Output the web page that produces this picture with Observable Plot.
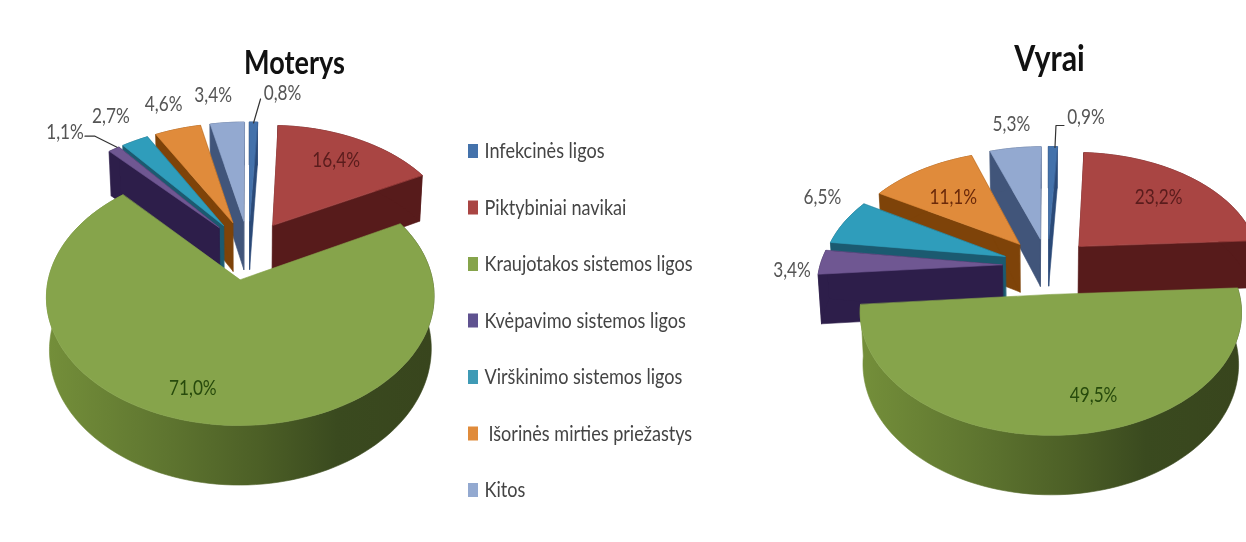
<!DOCTYPE html>
<html><head><meta charset="utf-8">
<script src="https://cdn.jsdelivr.net/npm/d3@7"></script>
<script src="https://cdn.jsdelivr.net/npm/@observablehq/plot@0.6"></script>
<style>html,body{margin:0;padding:0;background:#fff;overflow:hidden}svg{display:block;filter:blur(0.5px)}</style>
</head><body><div id="chart"></div>
<script>
// Data
const categories = ["Infekcinės ligos","Piktybiniai navikai","Kraujotakos sistemos ligos","Kvėpavimo sistemos ligos","Virškinimo sistemos ligos","Išorinės mirties priežastys","Kitos"];
const moterys = [0.8,16.4,71.0,1.1,2.7,4.6,3.4];
const vyrai = [0.9,23.2,49.5,3.4,6.5,11.1,5.3];
// Styles
const topColors = ["#4472ab","#a94543","#86a44b","#6f5792","#2f9dbb","#e08b3b","#93a9d0"];
const wallColors = ["#2b4a78","#571b1b","url(#greenWall)","#2d1e4a","#1b5a70","#7e4309","#41557a"];
const legendColors = ["#4472ab","#a94543","#86a44b","#5f5290","#3f9ab5","#e08b3b","#93a9d0"];
const drawOrder = [0,1,6,5,4,3,2];
// Layout of the two pseudo-3D pies
const pies = [
  {name:"Moterys", values:moterys, X0:248, Y0:249, A:186, B:118.5, g:.129, d:50, explode:.25,
   titleX:294, titleY:63, titleSize:33,
   labelColors:["#555","#5a1c1c","#274a0c","#555","#555","#555","#555"],
   labelOffset:[[29,-29],[-22,21],[-9,-35],[-49,-17],[-24,-25],[-14,-25],[-14,-27]],
   leaders:{0:[[0,1],[7,-23]],3:[[3,-2],[-19,-13],[-29,-13]]}},
  {name:"Vyrai", values:vyrai, X0:1047, Y0:265, A:182, B:112, g:.141, d:49, explode:.25,
   titleX:1049, titleY:59, titleSize:37,
   labelColors:["#555","#5a1c1c","#274a0c","#555","#555","#6b2a0a","#555"],
   labelOffset:[[33,-29],[-32,20],[27,-40],[-29,8],[-22,-25],[32,27],[-4,-24]],
   leaders:{0:[[2,1],[3,-21],[11,-21]]}}
];
const legendLayout = {x:468, w:10, h:14, y0:151, step:56.5, textX:484, textXs:{5:488}};
const textSqueeze = [.82,.82,.86]; // value labels, titles, legend: condensed like the original face

const polys = [], labels = [], leaderRows = [];
let pid = 0;
function addPoly(points, color){ const id = pid++; for (const [x,y] of points) polys.push({id,x,y,color}); }

for (const pie of pies) {
  const {values,X0,Y0,A,B,g,d,explode} = pie;
  const total = d3.sum(values);
  const cum = d3.cumsum(values);
  const slices = values.map((v,i)=>{
    const end = cum[i]/total*2*Math.PI, start = end - v/total*2*Math.PI;
    return {i,start,end,mid:(start+end)/2};
  });
  const project = (u,v)=>{ const p = 1/(1-v*g); return {x:X0+u*A*p, y:Y0+v*B*p, p}; };
  const top = (u,v)=>{ const q=project(u,v); return [q.x,q.y]; };
  const bottom = (u,v)=>{ const q=project(u,v); return [X0+(q.x-X0)*.985, q.y+d*q.p]; };
  for (const k of drawOrder) {
    const s = slices[k];
    const ex = explode*Math.sin(s.mid), ey = -explode*Math.cos(s.mid);
    const rim = th => [ex+Math.sin(th), ey-Math.cos(th)];
    const n = Math.max(2, Math.ceil((s.end-s.start)/(Math.PI/90)));
    const angles = d3.range(n+1).map(j=>s.start+(s.end-s.start)*j/n);
    // radial walls
    if (k !== 2) {
      addPoly([top(ex,ey),top(...rim(s.start)),bottom(...rim(s.start)),bottom(ex,ey)],wallColors[k]);
      addPoly([top(ex,ey),top(...rim(s.end)),bottom(...rim(s.end)),bottom(ex,ey)],wallColors[k]);
    }
    // outer wall
    addPoly([...angles.map(a=>top(...rim(a))),...angles.slice().reverse().map(a=>bottom(...rim(a)))],wallColors[k]);
    // top face
    addPoly([top(ex,ey),...angles.map(a=>top(...rim(a)))],topColors[k]);
  }
  // value labels and leader lines hang off the slice's rim midpoint
  slices.forEach((s,k)=>{
    const ex = explode*Math.sin(s.mid), ey = -explode*Math.cos(s.mid);
    const [rx,ry] = top(ex+Math.sin(s.mid), ey-Math.cos(s.mid));
    const [ox,oy] = pie.labelOffset[k];
    labels.push({x:rx+ox,y:ry+oy,text:values[k].toFixed(1).replace(".",",")+"%",color:pie.labelColors[k]});
    if (pie.leaders[k]) {
      const id = pie.name+k;
      for (const [lx,ly] of pie.leaders[k]) leaderRows.push({id,x:rx+lx,y:ry+ly});
    }
  });
}

const titles = pies.map(p=>({x:p.titleX,y:p.titleY,text:p.name,size:p.titleSize}));
const legendRows = categories.map((c,i)=>({
  name:c, color:legendColors[i],
  x1:legendLayout.x, x2:legendLayout.x+legendLayout.w,
  y1:legendLayout.y0+i*legendLayout.step-legendLayout.h/2,
  y2:legendLayout.y0+i*legendLayout.step+legendLayout.h/2,
  tx:legendLayout.textXs[i]??legendLayout.textX,
  ty:legendLayout.y0+i*legendLayout.step
}));

const font = "Lato,'Noto Sans',sans-serif";
const chart = Plot.plot({
  width:1246, height:542, margin:0,
  x:{type:"linear",domain:[0,1246],range:[0,1246],axis:null},
  y:{type:"linear",domain:[0,542],range:[0,542],axis:null},
  color:{type:"identity"},
  style:{background:"#fff"},
  marks:[
    Plot.line(polys,{x:"x",y:"y",z:"id",fill:"color",stroke:"color",strokeWidth:.6,curve:"linear-closed"}),
    Plot.line(leaderRows,{x:"x",y:"y",z:"id",stroke:"#333",strokeWidth:1.2}),
    Plot.text(labels,{x:"x",y:"y",text:"text",fill:"color",fontSize:21,fontFamily:font}),
    Plot.text(titles,{x:"x",y:"y",text:"text",fill:"#111",fontSize:"size",fontWeight:"bold",fontFamily:font}),
    Plot.rect(legendRows,{x1:"x1",x2:"x2",y1:"y1",y2:"y2",fill:"color"}),
    Plot.text(legendRows,{x:"tx",y:"ty",text:"name",fill:"#444",fontSize:21,textAnchor:"start",fontFamily:font})
  ]
});
document.getElementById("chart").append(chart);

// Olive shading of the green slice's outer wall
d3.select(chart).append("defs").html(
  '<linearGradient id="greenWall" x1="0" x2="1" y1="0" y2="0">' +
  '<stop offset="0" stop-color="#748f3a"/><stop offset=".3" stop-color="#5f7630"/>' +
  '<stop offset=".55" stop-color="#4c5f26"/><stop offset=".75" stop-color="#3a4a1f"/>' +
  '<stop offset="1" stop-color="#38451d"/></linearGradient>');

// Condense the text in place
chart.querySelectorAll('g[aria-label="text"]').forEach((g,i)=>{
  g.querySelectorAll("text").forEach(t=>{
    t.setAttribute("textLength", t.getComputedTextLength()*textSqueeze[i]);
    t.setAttribute("lengthAdjust","spacingAndGlyphs");
  });
});
</script></body></html>
